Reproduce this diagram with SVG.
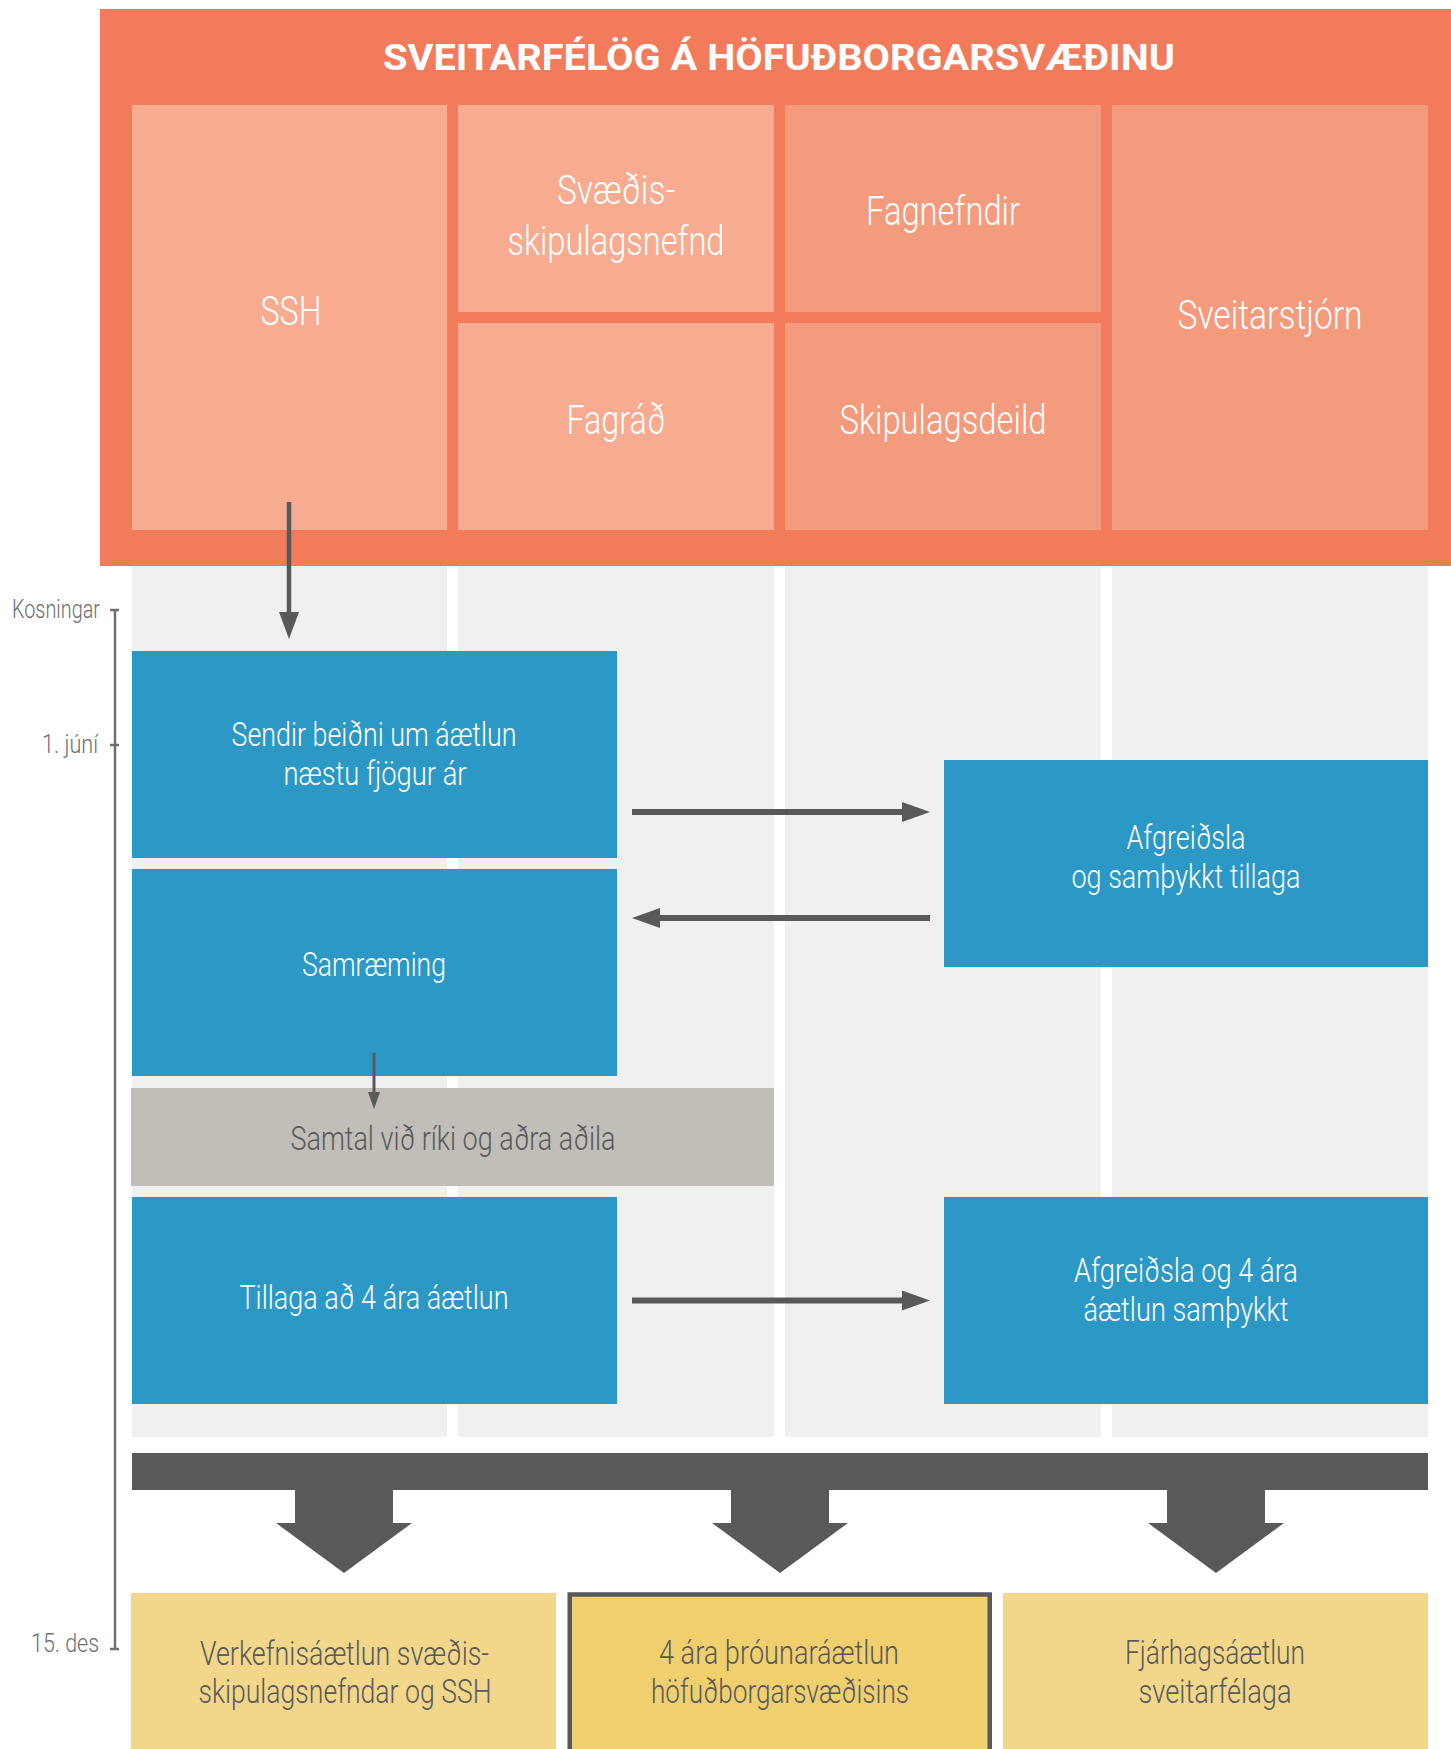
<svg xmlns="http://www.w3.org/2000/svg" width="1451" height="1749" viewBox="0 0 1451 1749">
<defs>
<style>
text{font-family:Roboto,"Liberation Sans",sans-serif;text-anchor:middle}
.lt{font-weight:300}
.w{fill:#FFFFFF}
.g{fill:#58595B}
.tl{fill:#6D6E70;font-size:26px;font-weight:300;text-anchor:end}
.f40{font-size:40px}
.f33{font-size:33px}
.lane{fill:#F0F0F0}
.blue{fill:#2B98C6}
.or1{fill:#F7AB91}
.or2{fill:#F59B7D}
.yel{fill:#F2D68A}
.conn{stroke:#58595B;fill:none}
</style>
<marker id="hBig" markerUnits="userSpaceOnUse" markerWidth="28" markerHeight="20" refX="0" refY="10" orient="auto" viewBox="0 0 28 20">
<path d="M0,0 L28,10 L0,20 z" fill="#58595B"/>
</marker>
<marker id="hTop" markerUnits="userSpaceOnUse" markerWidth="27" markerHeight="20" refX="0" refY="10" orient="auto" viewBox="0 0 27 20">
<path d="M0,0 L27,10 L0,20 z" fill="#58595B"/>
</marker>
<marker id="hSmall" markerUnits="userSpaceOnUse" markerWidth="17" markerHeight="12" refX="0" refY="6" orient="auto" viewBox="0 0 17 12">
<path d="M0,0 L17,6 L0,12 z" fill="#58595B"/>
</marker>
</defs>

<g id="lanes">
<rect class="lane" x="132" y="566" width="315" height="871"/>
<rect class="lane" x="458" y="566" width="316" height="871"/>
<rect class="lane" x="785" y="566" width="316" height="871"/>
<rect class="lane" x="1112" y="566" width="316" height="871"/>
</g>

<g id="sveitarfelog">
<rect x="100" y="9" width="1351" height="557" fill="#F27B5C"/>
<text class="w f40" x="779" y="69.5" style="font-size:36px;font-weight:700" textLength="792" lengthAdjust="spacingAndGlyphs">SVEITARFÉLÖG Á HÖFUÐBORGARSVÆÐINU</text>
</g>

<g id="ssh">
<rect class="or1" x="132" y="105" width="315" height="425"/>
<text class="w lt f40" x="291" y="325" textLength="61" lengthAdjust="spacingAndGlyphs">SSH</text>
</g>
<g id="svaedisskipulagsnefnd">
<rect class="or1" x="458" y="105" width="316" height="207"/>
<text class="w lt f40" x="616" y="204" textLength="118" lengthAdjust="spacingAndGlyphs">Svæðis-</text>
<text class="w lt f40" x="616" y="254.5" textLength="217" lengthAdjust="spacingAndGlyphs">skipulagsnefnd</text>
</g>
<g id="fagnefndir">
<rect class="or2" x="785" y="105" width="316" height="207"/>
<text class="w lt f40" x="943" y="225" textLength="154" lengthAdjust="spacingAndGlyphs">Fagnefndir</text>
</g>
<g id="fagrad">
<rect class="or1" x="458" y="323" width="316" height="207"/>
<text class="w lt f40" x="616" y="434" textLength="99" lengthAdjust="spacingAndGlyphs">Fagráð</text>
</g>
<g id="skipulagsdeild">
<rect class="or2" x="785" y="323" width="316" height="207"/>
<text class="w lt f40" x="943" y="434" textLength="207" lengthAdjust="spacingAndGlyphs">Skipulagsdeild</text>
</g>
<g id="sveitarstjorn">
<rect class="or2" x="1112" y="105" width="316" height="425"/>
<text class="w lt f40" x="1270" y="328.5" textLength="185" lengthAdjust="spacingAndGlyphs">Sveitarstjórn</text>
</g>

<g id="timeline">
<line x1="115" y1="610" x2="115" y2="1649" stroke="#6D6E70" stroke-width="2.5"/>
<line x1="110" y1="610" x2="119" y2="610" stroke="#6D6E70" stroke-width="2.5"/>
<line x1="110" y1="745" x2="119" y2="745" stroke="#6D6E70" stroke-width="2.5"/>
<line x1="110" y1="1649" x2="119" y2="1649" stroke="#6D6E70" stroke-width="2.5"/>
<text class="tl" x="100" y="617.5" textLength="88" lengthAdjust="spacingAndGlyphs">Kosningar</text>
<text class="tl" x="98" y="752.5" textLength="56" lengthAdjust="spacingAndGlyphs">1. júní</text>
<text class="tl" x="99" y="1651.5" textLength="68" lengthAdjust="spacingAndGlyphs">15. des</text>
</g>

<g id="sendir">
<rect class="blue" x="132" y="651" width="485" height="207"/>
<text class="w lt f33" x="374" y="746" textLength="285" lengthAdjust="spacingAndGlyphs">Sendir beiðni um áætlun</text>
<text class="w lt f33" x="375" y="785" textLength="183" lengthAdjust="spacingAndGlyphs">næstu fjögur ár</text>
</g>
<g id="samraeming">
<rect class="blue" x="132" y="869" width="485" height="207"/>
<text class="w lt f33" x="374" y="976" textLength="144" lengthAdjust="spacingAndGlyphs">Samræming</text>
</g>
<g id="afgreidsla1">
<rect class="blue" x="944" y="760" width="484" height="207"/>
<text class="w lt f33" x="1186" y="849" textLength="119" lengthAdjust="spacingAndGlyphs">Afgreiðsla</text>
<text class="w lt f33" x="1186" y="888" textLength="229" lengthAdjust="spacingAndGlyphs">og samþykkt tillaga</text>
</g>
<g id="samtal">
<rect x="131" y="1088" width="643" height="98" fill="#C1BEB7"/>
<text class="g lt f33" x="453" y="1150" textLength="325" lengthAdjust="spacingAndGlyphs">Samtal við ríki og aðra aðila</text>
</g>
<g id="tillaga">
<rect class="blue" x="132" y="1197" width="485" height="207"/>
<text class="w lt f33" x="374" y="1309" textLength="269" lengthAdjust="spacingAndGlyphs">Tillaga að 4 ára áætlun</text>
</g>
<g id="afgreidsla2">
<rect class="blue" x="944" y="1197" width="484" height="207"/>
<text class="w lt f33" x="1186" y="1282" textLength="224" lengthAdjust="spacingAndGlyphs">Afgreiðsla og 4 ára</text>
<text class="w lt f33" x="1186" y="1321" textLength="205" lengthAdjust="spacingAndGlyphs">áætlun samþykkt</text>
</g>

<g id="verkefnisaaetlun">
<rect class="yel" x="131" y="1593" width="425" height="156"/>
<text class="g lt f33" x="344.5" y="1664.5" textLength="289" lengthAdjust="spacingAndGlyphs">Verkefnisáætlun svæðis-</text>
<text class="g lt f33" x="345" y="1703" textLength="293" lengthAdjust="spacingAndGlyphs">skipulagsnefndar og SSH</text>
</g>
<g id="throunaraaetlun">
<rect x="569.75" y="1594.5" width="420" height="160" fill="#F0CF6E" stroke="#58595B" stroke-width="4.5"/>
<text class="g lt f33" x="779" y="1664" textLength="240" lengthAdjust="spacingAndGlyphs">4 ára þróunaráætlun</text>
<text class="g lt f33" x="780" y="1703" textLength="258" lengthAdjust="spacingAndGlyphs">höfuðborgarsvæðisins</text>
</g>
<g id="fjarhagsaaetlun">
<rect class="yel" x="1003" y="1593" width="425" height="156"/>
<text class="g lt f33" x="1215" y="1664" textLength="180" lengthAdjust="spacingAndGlyphs">Fjárhagsáætlun</text>
<text class="g lt f33" x="1215" y="1703" textLength="153" lengthAdjust="spacingAndGlyphs">sveitarfélaga</text>
</g>

<g id="connectors">
<line class="conn" x1="289" y1="502" x2="289" y2="612" stroke-width="4.5" marker-end="url(#hTop)"/>
<line class="conn" x1="632" y1="812" x2="902" y2="812" stroke-width="6" marker-end="url(#hBig)"/>
<line class="conn" x1="930" y1="918" x2="660" y2="918" stroke-width="6" marker-end="url(#hBig)"/>
<line class="conn" x1="374" y1="1053" x2="374" y2="1092" stroke-width="3" marker-end="url(#hSmall)"/>
<line class="conn" x1="632" y1="1300.5" x2="902" y2="1300.5" stroke-width="6" marker-end="url(#hBig)"/>
<g fill="#58595B">
<rect x="132" y="1453" width="1296" height="37"/>
<path d="M295,1489 H393 V1523 H412 L344,1573 L276,1523 H295 Z"/>
<path d="M731,1489 H829 V1523 H848 L780,1573 L712,1523 H731 Z"/>
<path d="M1167,1489 H1265 V1523 H1284 L1216,1573 L1148,1523 H1167 Z"/>
</g>
</g>
</svg>
